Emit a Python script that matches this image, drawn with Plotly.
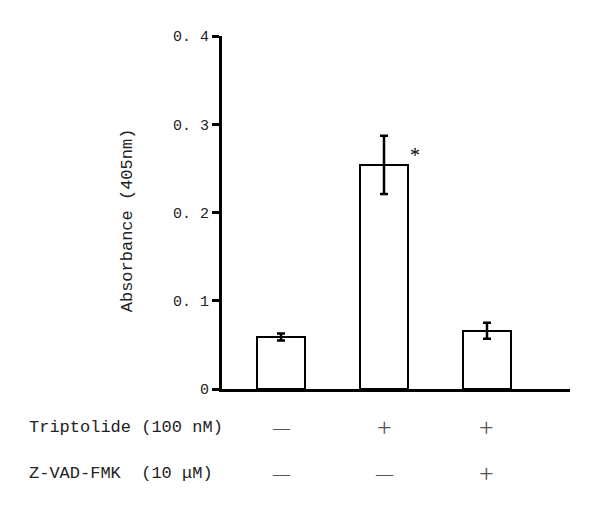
import plotly.graph_objects as go

# ---- data ----
groups = [0, 1, 2]
means = [0.059, 0.254, 0.066]
errors = [0.004, 0.033, 0.009]
sig_marks = ["", "*", ""]
y_tick_vals = [0, 0.1, 0.2, 0.3, 0.4]
y_tick_text = ["0", "0. 1", "0. 2", "0. 3", "0. 4"]
y_title = "Absorbance (405nm)"
row_labels = ["Triptolide (100 nM)", "Z-VAD-FMK  (10 \u03bcM)"]
triptolide = ["\u2014", "+", "+"]
zvad = ["\u2014", "\u2014", "+"]

MONO = "Liberation Mono"
SERIF = "Liberation Serif"

fig = go.Figure()
fig.add_trace(go.Bar(
    x=groups, y=means, width=0.46,
    marker=dict(color="white", line=dict(color="black", width=2)),
    error_y=dict(type="data", array=errors, visible=True,
                 color="black", thickness=2.5, width=4),
    showlegend=False,
))

annotations = []
# y-axis title
annotations.append(dict(
    text=y_title, xref="paper", yref="paper", x=-0.273, y=0.478,
    textangle=-90, showarrow=False, xanchor="center", yanchor="middle",
    font=dict(family=MONO, size=17, color="#222"),
))
# significance markers
for g, m, e, s in zip(groups, means, errors, sig_marks):
    if s:
        annotations.append(dict(
            text=s, xref="x", yref="y", x=g + 0.30, y=m + 0.011,
            showarrow=False, xanchor="center", yanchor="middle",
            font=dict(family=SERIF, size=20, color="black"),
        ))
# treatment rows
row_y = [-0.110, -0.238]
for lab, yy, signs in zip(row_labels, row_y, [triptolide, zvad]):
    annotations.append(dict(
        text=lab, xref="paper", yref="paper", x=-0.560, y=yy,
        showarrow=False, xanchor="left", yanchor="middle",
        font=dict(family=MONO, size=17, color="#222"),
    ))
    for g, s in zip(groups, signs):
        annotations.append(dict(
            text=s, xref="x", yref="paper", x=g, y=yy,
            showarrow=False, xanchor="center", yanchor="middle",
            font=dict(family=SERIF, size=26 if s == "+" else 17, color="#555"),
        ))

fig.update_layout(
    width=600, height=514,
    margin=dict(l=214, r=38, t=28, b=133),
    paper_bgcolor="white", plot_bgcolor="white",
    bargap=0,
    xaxis=dict(range=[-0.573, 2.806], showgrid=False, zeroline=False,
               showline=True, linecolor="black", linewidth=3,
               showticklabels=False, ticks=""),
    yaxis=dict(range=[0, 0.4], showgrid=False, zeroline=False,
               showline=True, linecolor="black", linewidth=3,
               tickvals=y_tick_vals, ticktext=y_tick_text,
               ticks="outside", ticklen=7, tickwidth=3, tickcolor="black",
               tickfont=dict(family=MONO, size=15, color="#222")),
    annotations=annotations,
)

fig.write_html("out.html")
